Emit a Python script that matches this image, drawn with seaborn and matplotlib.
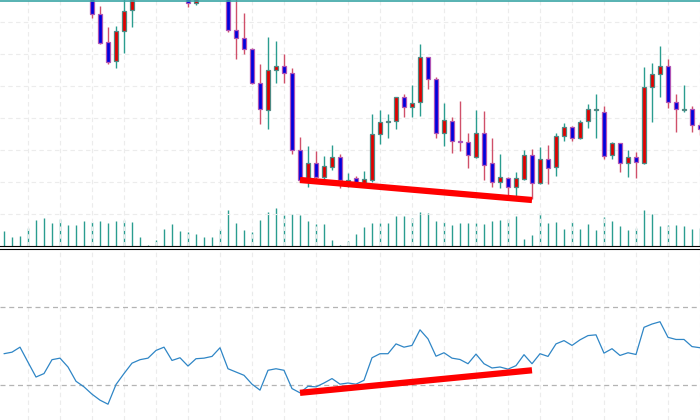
import matplotlib
matplotlib.use("Agg")
from matplotlib import pyplot as plt
import seaborn as sns
import pandas as pd

# candle data (arbitrary price units), one entry per bar
opens = [300, 305, 298, 310, 302, 290, 296, 285, 292, 280, 272,
         255, 236, 208, 189, 219, 240, 258, 270, 272, 281, 276,
         266, 251, 247, 252, 262, 270, 262, 220, 212, 201,
         167, 140, 180, 184, 177, 100, 72, 87, 73, 83, 93,
         67, 72, 67, 70, 116, 128, 129, 153, 143, 148, 193,
         171, 117, 129, 109, 108, 93, 117, 87, 68, 72, 63,
         71, 95, 67, 91, 83, 114, 123, 112, 129, 140, 138,
         95, 107, 87, 93, 87, 163, 176, 184, 148, 140, 141, 125]
closes = [305, 298, 310, 302, 290, 296, 285, 292, 280, 272, 255,
          236, 207, 188, 219, 239, 258, 270, 272, 281, 276, 266,
          253, 247, 251, 262, 270, 262, 220, 212, 201, 167,
          141, 180, 184, 177, 100, 70, 87, 73, 84, 93, 70,
          70, 67, 71, 116, 128, 129, 153, 143, 147, 193, 171,
          117, 130, 109, 108, 95, 117, 85, 68, 73, 63, 72,
          95, 67, 91, 82, 114, 123, 112, 128, 141, 141, 94,
          107, 87, 93, 88, 163, 176, 184, 148, 141, 141, 125, 121]
highs = [312, 310, 316, 314, 306, 301, 299, 298, 295, 284, 276,
         262, 244, 223, 224, 253, 264, 276, 278, 286, 288, 279,
         270, 256, 256, 266, 275, 273, 268, 252, 237, 202,
         186, 213, 209, 196, 182, 113, 104, 99, 94, 105, 96,
         77, 74, 79, 136, 140, 136, 153, 156, 165, 206, 193,
         173, 147, 133, 149, 117, 140, 139, 112, 96, 73, 78,
         100, 101, 103, 105, 117, 127, 124, 130, 146, 156, 144,
         108, 107, 100, 98, 183, 187, 204, 191, 156, 165, 144, 128]
lows = [295, 292, 294, 296, 285, 284, 280, 281, 276, 268, 252,
        232, 206, 186, 182, 197, 223, 255, 266, 268, 272, 262,
        252, 243, 245, 251, 258, 258, 218, 191, 196, 166,
        126, 121, 167, 167, 96, 68, 63, 70, 70, 80, 62,
        63, 65, 65, 68, 106, 112, 121, 133, 133, 134, 161,
        112, 104, 97, 99, 82, 92, 70, 63, 62, 54, 54,
        70, 51, 66, 66, 74, 109, 109, 111, 122, 112, 91,
        91, 78, 73, 72, 86, 128, 153, 142, 118, 138, 118, 115]
volumes = [15, 9, 10, 18, 26, 28, 23, 27, 21, 21, 25,
           24, 25, 23, 25, 26, 24, 9, 1, 6, 17, 22,
           15, 14, 12, 9, 9, 17, 36, 23, 16, 14,
           26, 34, 38, 31, 32, 31, 25, 22, 22, 6, 1,
           5, 12, 19, 23, 23, 23, 30, 30, 28, 34, 33,
           25, 24, 21, 23, 23, 23, 22, 25, 26, 27, 30,
           7, 11, 33, 23, 24, 17, 24, 17, 22, 16, 29,
           25, 20, 16, 18, 36, 32, 20, 21, 21, 20, 17, 18]
rsi = [46.0, 46.8, 49.4, 41.6, 33.9, 35.7, 42.9, 43.7, 39.1, 31.7, 28.8,
       25.0, 21.9, 19.8, 30.0, 35.7, 41.1, 42.9, 43.7, 47.7, 49.4, 42.5,
       43.9, 39.6, 43.4, 43.7, 44.6, 49.1, 38.2, 36.5, 34.8, 30.2,
       27.1, 37.4, 38.2, 37.4, 27.9, 25.7, 29.1, 28.8, 30.8, 33.1, 30.2,
       30.8, 30.2, 32.2, 43.9, 46.0, 46.0, 51.1, 49.4, 50.3, 58.4, 53.7,
       44.7, 46.5, 43.7, 43.0, 40.8, 45.8, 40.8, 38.6, 39.1, 38.0, 39.8,
       45.5, 40.8, 46.0, 44.6, 51.1, 52.8, 50.3, 53.2, 55.4, 55.8, 46.3,
       48.6, 45.1, 46.5, 45.6, 59.7, 61.4, 62.6, 54.5, 53.4, 53.4, 49.7, 49.1]

# divergence lines: bar index, price end points, rsi end points
div_bars = [37, 66]
div_price = [70, 50]
div_rsi = [25.7, 37.4]

rsi_levels = [30, 70]

df = pd.DataFrame({"bar": range(len(opens)), "open": opens, "close": closes,
                   "high": highs, "low": lows, "volume": volumes, "rsi": rsi})

sns.set_style("white")

fig = plt.figure(figsize=(7, 4.2), dpi=100)
ax = fig.add_axes([0, 174 / 420, 1, 246 / 420])
vol_ax = ax.twinx()
rsi_ax = fig.add_axes([0, 0, 1, 171.5 / 420])

grid_kw = dict(color="#ececec", linestyle=(0, (4, 3)), linewidth=0.8, zorder=0)
for a in [ax, rsi_ax]:
    for gx in range(3, 88, 4):
        a.axvline(gx, **grid_kw)
for gy in range(36, 250, 32):
    ax.axhline(gy, **grid_kw)

# volume histogram in the bottom of the price panel
vol_ax.vlines(df["bar"], 0, df["volume"], color="#2a9d8f", linewidth=1)
vol_ax.set_ylim(0, 246)
vol_ax.set_zorder(ax.get_zorder() - 1)
ax.patch.set_visible(False)

# candles
for i, row in df.iterrows():
    up = row["close"] >= row["open"]
    wick = "#2a9d8f" if up else "#d0506a"
    body = "#e00000" if up else "#0000dd"
    edge = "#4f8a84" if up else "#b055b5"
    ax.vlines(row["bar"], row["low"], row["high"], color=wick, linewidth=1, zorder=2)
    lo = min(row["open"], row["close"])
    h = max(abs(row["close"] - row["open"]), 0.8)
    ax.bar(row["bar"], h, bottom=lo, width=0.62, color=body, edgecolor=edge,
           linewidth=0.9, zorder=3)

ax.axhline(249, color="#3aa6a6", linewidth=1.2, zorder=4)
ax.plot(div_bars, div_price, color="#ff0000", linewidth=4.5,
        solid_capstyle="butt", zorder=5)
ax.set_xlim(-0.5, 87)
ax.set_ylim(4, 250)

# rsi panel
for lv in rsi_levels:
    rsi_ax.axhline(lv, color="#b4b4b4", linestyle=(0, (4, 3)), linewidth=0.9, zorder=1)
sns.lineplot(data=df, x="bar", y="rsi", ax=rsi_ax, color="#2f86c6", linewidth=0.9, zorder=2)
rsi_ax.plot(div_bars, div_rsi, color="#ff0000", linewidth=4.5,
            solid_capstyle="butt", zorder=5)
rsi_ax.set_xlim(-0.5, 87)
rsi_ax.set_ylim(11.6, 100.6)

for a in [ax, vol_ax, rsi_ax]:
    a.set_xticks([])
    a.set_yticks([])
    a.set_xlabel("")
    a.set_ylabel("")
    for s in a.spines.values():
        s.set_visible(False)
ax.spines["bottom"].set_visible(True)
ax.spines["bottom"].set_color("black")
ax.spines["bottom"].set_linewidth(0.8)
rsi_ax.spines["top"].set_visible(True)
rsi_ax.spines["top"].set_color("black")
rsi_ax.spines["top"].set_linewidth(0.8)

fig.savefig("out.png", dpi=100)
